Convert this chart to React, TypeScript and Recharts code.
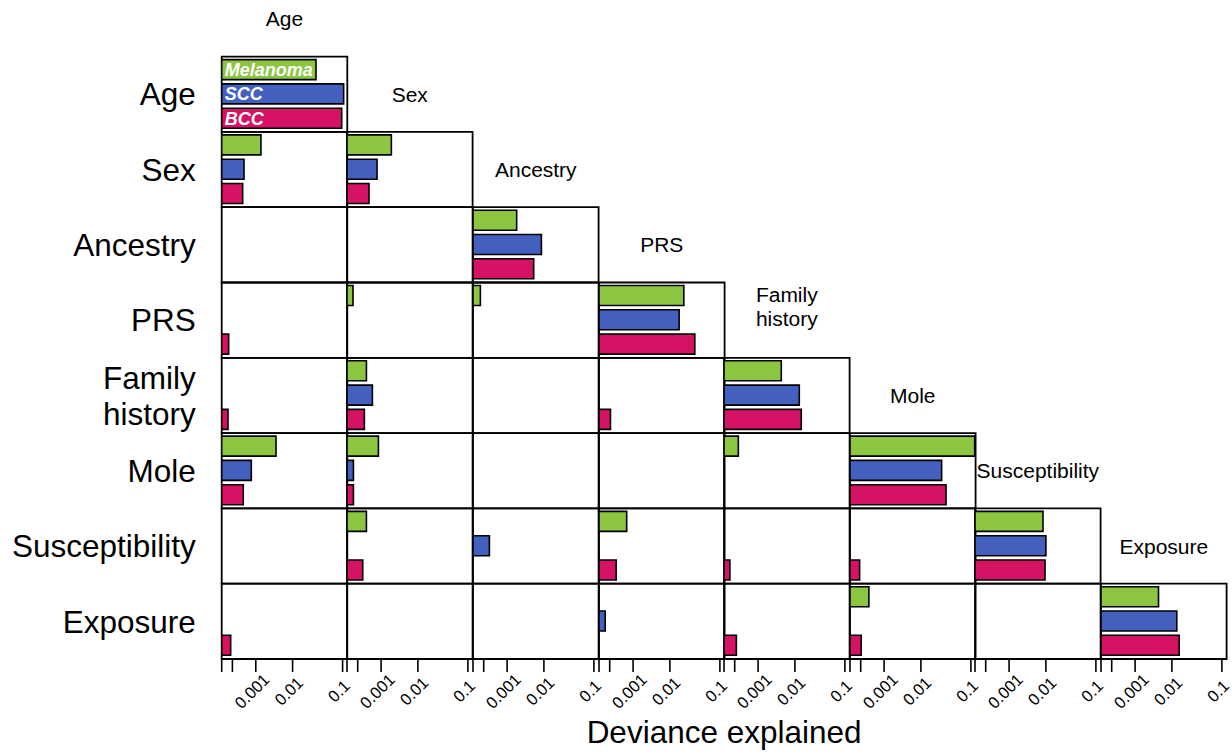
import React from 'react'
import { BarChart, Bar, XAxis, YAxis, ReferenceArea, LabelList } from 'recharts'

// predictors, in row order (columns use the same order)
const predictors = ['Age', 'Sex', 'Ancestry', 'PRS', 'Family history', 'Mole', 'Susceptibility', 'Exposure']

// deviance explained, lower triangle: row i holds columns 0..i, null = no bar
const melanoma: (number | null)[][] = [
  [0.0294],
  [0.00138, 0.0019],
  [null, null, 0.00182],
  [null, 0.000056, 0.000069, 0.019],
  [null, 0.000236, null, null, 0.00427],
  [0.00354, 0.000768, null, null, 0.000143, 0.119],
  [null, 0.000236, null, 0.000532, null, null, 0.00834],
  [null, null, null, null, null, 0.000224, null, 0.00433],
]

const scc: (number | null)[][] = [
  [0.105],
  [0.000313, 0.00067],
  [null, null, 0.00855],
  [null, null, null, 0.0153],
  [null, 0.000425, null, null, 0.01225],
  [0.000643, 0.00006, null, null, null, 0.026],
  [null, null, 0.000175, null, null, null, 0.01],
  [null, null, null, 0.000058, null, null, null, 0.01253],
]

const bcc: (number | null)[][] = [
  [0.096],
  [0.000275, 0.000304],
  [null, null, 0.00528],
  [0.000065, null, null, 0.0315],
  [0.000059, 0.000193, null, 0.000108, 0.0134],
  [0.000292, 0.00006, null, null, null, 0.0318],
  [null, 0.000164, null, 0.00019, 0.000055, 0.00009, 0.00946],
  [0.000084, null, null, null, 0.000118, 0.000105, null, 0.014],
]

const seriesNames = ['Melanoma', 'SCC', 'BCC']
const tickValues = [0, 0.0001, 0.001, 0.01, 0.1]
const tickLabels = ['', '', '0.001', '0.01', '0.1']

// layout
const LEFT = 221.7
const TOP = 56.6
const CELL_W = 125.6
const CELL_H = 75.3
const PAD = 12
const HEIGHT = 755
const AXIS_H = HEIGHT - TOP - CELL_H * 8
const FONT = '"Liberation Sans", Arial, Helvetica, sans-serif'
const colors = { melanoma: '#8cc540', scc: '#4360bf', bcc: '#d51264' }

// the axis is stretched: linear up to 1e-4, then log pieces between the breaks
const breakPos = [0, 10.7, 34.1, 70.9, 120.9]
function toAxis(v: number) {
  if (v <= tickValues[1]) return (v / tickValues[1]) * breakPos[1]
  for (let k = 1; k < tickValues.length - 1; k++) {
    if (v <= tickValues[k + 1]) {
      const t = Math.log10(v / tickValues[k]) / Math.log10(tickValues[k + 1] / tickValues[k])
      return breakPos[k] + t * (breakPos[k + 1] - breakPos[k])
    }
  }
  const n = tickValues.length - 1
  return breakPos[n] + Math.log10(v / tickValues[n]) * (breakPos[n] - breakPos[n - 1])
}
const axisTicks = tickValues.map(toAxis)

function columnData(j: number) {
  const pick = (m: (number | null)[][], i: number) => {
    const v = i >= j ? m[i][j] : null
    return v == null ? null : toAxis(v)
  }
  return predictors.map((row, i) => ({
    row,
    melanoma: pick(melanoma, i),
    scc: pick(scc, i),
    bcc: pick(bcc, i),
    tagMel: i === 0 && j === 0 ? seriesNames[0] : undefined,
    tagScc: i === 0 && j === 0 ? seriesNames[1] : undefined,
    tagBcc: i === 0 && j === 0 ? seriesNames[2] : undefined,
  }))
}

function DevianceTick(props: any) {
  const { x, y, payload } = props
  const idx = axisTicks.findIndex((t) => Math.abs(t - payload.value) < 0.01)
  const lab = idx >= 0 ? tickLabels[idx] : ''
  if (!lab) return null
  const cx = x - 4
  const cy = y + 17
  return (
    <text x={cx} y={cy} transform={`rotate(-45 ${cx} ${cy})`} textAnchor="middle"
      dominantBaseline="central" fontSize={16.5} fontFamily={FONT} fill="#000">
      {lab}
    </text>
  )
}

function RowTick(props: any) {
  const { x, y, payload } = props
  const lines = String(payload.value).split(' ')
  const base = lines.length === 1 ? [y + 11.2] : [y - 6.8, y + 29.2]
  return (
    <text textAnchor="end" fontSize={31.5} fontFamily={FONT} fill="#000">
      {lines.map((l, k) => (
        <tspan key={k} x={x - 26} y={base[k]}>{l}</tspan>
      ))}
    </text>
  )
}

// column title, drawn in the empty cell just above the diagonal one
function HeaderLabel(props: any) {
  const { viewBox, text } = props
  if (!viewBox) return null
  const cx = viewBox.x + viewBox.width / 2
  const cy = viewBox.y - viewBox.height / 2
  const lines = String(text).split(' ')
  const base = lines.length === 1 ? [cy + 7.5] : [cy - 18.4, cy + 5.6]
  return (
    <text textAnchor="middle" fontSize={21} fontFamily={FONT} fill="#000">
      {lines.map((l, k) => (
        <tspan key={k} x={cx} y={base[k]}>{l}</tspan>
      ))}
    </text>
  )
}

const tagStyle = { fill: '#fff', fontSize: 18, fontWeight: 700, fontStyle: 'italic', fontFamily: FONT }

function Column({ j }: { j: number }) {
  const first = j === 0
  const width = first ? LEFT + CELL_W + PAD : CELL_W + 2 * PAD
  const left = first ? 0 : LEFT + j * CELL_W - PAD
  return (
    <div style={{ position: 'absolute', left, top: 0 }}>
      <BarChart
        layout="vertical"
        width={width}
        height={HEIGHT}
        data={columnData(j)}
        margin={{ top: TOP, right: PAD, bottom: 0, left: first ? 0 : PAD }}
        barSize={20}
        barGap={4.3}
      >
        <XAxis
          type="number"
          domain={[0, CELL_W]}
          ticks={axisTicks}
          allowDataOverflow
          interval={0}
          height={AXIS_H}
          axisLine={false}
          tickSize={13}
          tickLine={{ stroke: '#000', strokeWidth: 1.6 }}
          tick={<DevianceTick />}
        />
        {first ? (
          <YAxis type="category" dataKey="row" width={LEFT} axisLine={false} tickLine={false}
            tickSize={0} tickMargin={0} interval={0} tick={<RowTick />} />
        ) : (
          <YAxis type="category" dataKey="row" hide />
        )}
        {predictors.map((p, i) =>
          i >= j ? (
            <ReferenceArea
              key={p}
              x1={0}
              x2={CELL_W}
              y1={p}
              y2={p}
              fill="none"
              fillOpacity={0}
              stroke="#000"
              strokeWidth={1.8}
              ifOverflow="visible"
              label={i === j ? <HeaderLabel text={predictors[j]} /> : undefined}
            />
          ) : null
        )}
        <Bar dataKey="melanoma" fill={colors.melanoma} stroke="#000" strokeWidth={1.6} isAnimationActive={false}>
          {first && <LabelList dataKey="tagMel" position="insideLeft" offset={3} {...tagStyle} />}
        </Bar>
        <Bar dataKey="scc" fill={colors.scc} stroke="#000" strokeWidth={1.6} isAnimationActive={false}>
          {first && <LabelList dataKey="tagScc" position="insideLeft" offset={3} {...tagStyle} />}
        </Bar>
        <Bar dataKey="bcc" fill={colors.bcc} stroke="#000" strokeWidth={1.6} isAnimationActive={false}>
          {first && <LabelList dataKey="tagBcc" position="insideLeft" offset={3} {...tagStyle} />}
        </Bar>
      </BarChart>
    </div>
  )
}

export default function App() {
  return (
    <div style={{ position: 'absolute', left: 0, top: 0, width: 1232, height: HEIGHT, background: '#fff', fontFamily: FONT, overflow: 'hidden' }}>
      {predictors.map((p, j) => (
        <Column key={p} j={j} />
      ))}
      <svg width={1232} height={HEIGHT} style={{ position: 'absolute', left: 0, top: 0, pointerEvents: 'none' }}>
        <text x={LEFT + 4 * CELL_W} y={743} textAnchor="middle" fontSize={31.5} fontFamily={FONT} fill="#000">
          Deviance explained
        </text>
      </svg>
    </div>
  )
}
